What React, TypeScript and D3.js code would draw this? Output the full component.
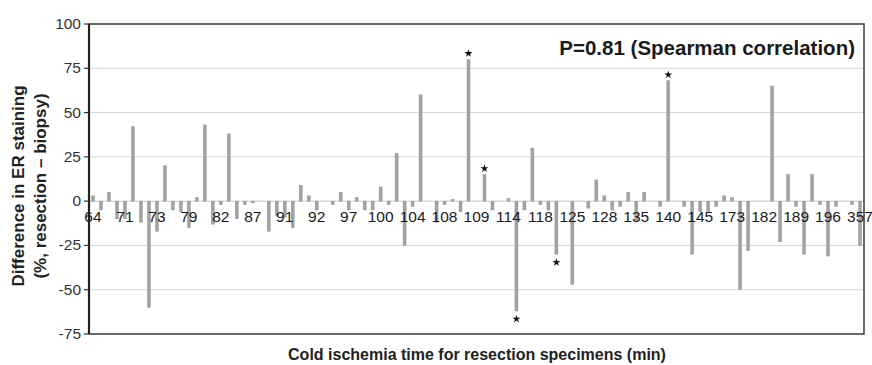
import React, { useEffect, useRef } from 'react'
import * as d3 from 'd3'

// one value per resection specimen, ordered by cold ischemia time
const diffValues = [
  3, -5, 5, -10, -10, 42, -12, -60, -17, 20,
  -5, -6, -15, 2, 43, -13, -2, 38, -10, -2,
  -1, 0, -17, -8, -9, -15, 9, 3, -5, 0,
  -2, 5, -5, 2, -5, -5, 8, -2, 27, -25,
  -3, 60, 0, -12, -2, 1, -6, 80, 0, 15,
  -5, 0, 1.5, -62, -5, 30, -2, -5, -30, 0,
  -47, 0, -4, 12, 3, -5, -3, 5, -11, 5,
  0, -3, 68, 0, -3, -30, -6, -6, -3, 3,
  2, -50, -28, 0, 0, 65, -23, 15, -3, -30,
  15, -2, -31, -3, 0, -2, -25,
]

// labels shown on every 4th category
const timeLabels = [
  '64', '71', '73', '79', '82', '87', '91', '92', '97', '100', '104', '108', '109',
  '114', '118', '125', '128', '135', '140', '145', '173', '182', '189', '196', '357',
]

// specimens marked with an asterisk
const starredUp = [47, 49, 72]
const starredDown = [53, 58]

const yTicks = [100, 75, 50, 25, 0, -25, -50, -75]

const W = 872
const H = 365
const FONT = 'Liberation Sans, Arial, Helvetica, sans-serif'

const App = () => {
  const svgRef = useRef(null)

  useEffect(() => {
    const svg = d3.select(svgRef.current)
    svg.selectAll('*').remove()

    const left = 89
    const right = 864
    const top = 24
    const bottom = 334

    const x = d3
      .scaleBand()
      .domain(diffValues.map((d, i) => String(i)))
      .range([left, right])
      .paddingInner(0.62)
      .paddingOuter(0.31)

    const y = d3.scaleLinear().domain([-75, 100]).range([bottom, top])

    svg
      .append('rect')
      .attr('width', W)
      .attr('height', H)
      .attr('fill', '#ffffff')

    // gridlines
    svg
      .append('g')
      .selectAll('line')
      .data(yTicks.filter((t) => t !== 100 && t !== -75))
      .enter()
      .append('line')
      .attr('x1', left)
      .attr('x2', right)
      .attr('y1', (d) => y(d))
      .attr('y2', (d) => y(d))
      .attr('stroke', (d) => (d === 0 ? '#c8c8c8' : '#d6d6d6'))
      .attr('stroke-width', 1)

    // bars
    svg
      .append('g')
      .selectAll('rect')
      .data(diffValues)
      .enter()
      .append('rect')
      .attr('x', (d, i) => x(String(i)))
      .attr('width', x.bandwidth())
      .attr('y', (d) => y(Math.max(0, d)))
      .attr('height', (d) => Math.abs(y(d) - y(0)))
      .attr('fill', '#a3a3a3')
      .attr('stroke', '#8f8f8f')
      .attr('stroke-width', 0.4)

    // category labels
    svg
      .append('g')
      .selectAll('text')
      .data(timeLabels)
      .enter()
      .append('text')
      .attr('x', (d, i) => x(String(i * 4)) + x.bandwidth() / 2)
      .attr('y', y(0) + 21)
      .attr('text-anchor', 'middle')
      .attr('font-family', FONT)
      .attr('font-size', 15.5)
      .attr('fill', '#1a1a1a')
      .text((d) => d)

    // stars
    const star = d3.symbol().type(d3.symbolStar).size(20)
    svg
      .append('g')
      .selectAll('path')
      .data(starredUp)
      .enter()
      .append('path')
      .attr('d', star)
      .attr('transform', (i) => `translate(${x(String(i)) + x.bandwidth() / 2},${y(diffValues[i]) - 6})`)
      .attr('fill', '#111')
    svg
      .append('g')
      .selectAll('path')
      .data(starredDown)
      .enter()
      .append('path')
      .attr('d', star)
      .attr('transform', (i) => `translate(${x(String(i)) + x.bandwidth() / 2},${y(diffValues[i]) + 8})`)
      .attr('fill', '#111')

    // frame
    svg
      .append('rect')
      .attr('x', left)
      .attr('y', top)
      .attr('width', right - left)
      .attr('height', bottom - top)
      .attr('fill', 'none')
      .attr('stroke', '#3a3a3a')
      .attr('stroke-width', 1.5)
    svg
      .append('line')
      .attr('x1', left)
      .attr('x2', left)
      .attr('y1', top)
      .attr('y2', bottom)
      .attr('stroke', '#222')
      .attr('stroke-width', 2.2)

    // y axis ticks and labels
    const yAxis = svg.append('g')
    yAxis
      .selectAll('line')
      .data(yTicks)
      .enter()
      .append('line')
      .attr('x1', left - 5)
      .attr('x2', left)
      .attr('y1', (d) => y(d))
      .attr('y2', (d) => y(d))
      .attr('stroke', '#333')
      .attr('stroke-width', 1.2)
    yAxis
      .selectAll('text')
      .data(yTicks)
      .enter()
      .append('text')
      .attr('x', left - 8)
      .attr('y', (d) => y(d) + 5)
      .attr('text-anchor', 'end')
      .attr('font-family', FONT)
      .attr('font-size', 15.5)
      .attr('fill', '#333')
      .text((d) => d)

    // titles
    const yTitle = svg
      .append('text')
      .attr('transform', 'translate(24,186) rotate(-90)')
      .attr('text-anchor', 'middle')
      .attr('font-family', FONT)
      .attr('font-size', 17)
      .attr('font-weight', 'bold')
      .attr('fill', '#222')
    yTitle.append('tspan').attr('x', 0).attr('dy', 0).text('Difference in ER staining')
    yTitle.append('tspan').attr('x', 0).attr('dy', 22).text('(%, resection – biopsy)')

    svg
      .append('text')
      .attr('x', 477)
      .attr('y', 360)
      .attr('text-anchor', 'middle')
      .attr('font-family', FONT)
      .attr('font-size', 16)
      .attr('font-weight', 'bold')
      .attr('fill', '#222')
      .text('Cold ischemia time for resection specimens (min)')

    svg
      .append('text')
      .attr('x', 855)
      .attr('y', 55)
      .attr('text-anchor', 'end')
      .attr('font-family', FONT)
      .attr('font-size', 20.5)
      .attr('font-weight', 'bold')
      .attr('fill', '#1a1a1a')
      .text('P=0.81 (Spearman correlation)')
  }, [])

  return (
    <svg
      ref={svgRef}
      width={W}
      height={H}
      style={{ position: 'absolute', left: 0, top: 0, display: 'block' }}
    />
  )
}

export default App
